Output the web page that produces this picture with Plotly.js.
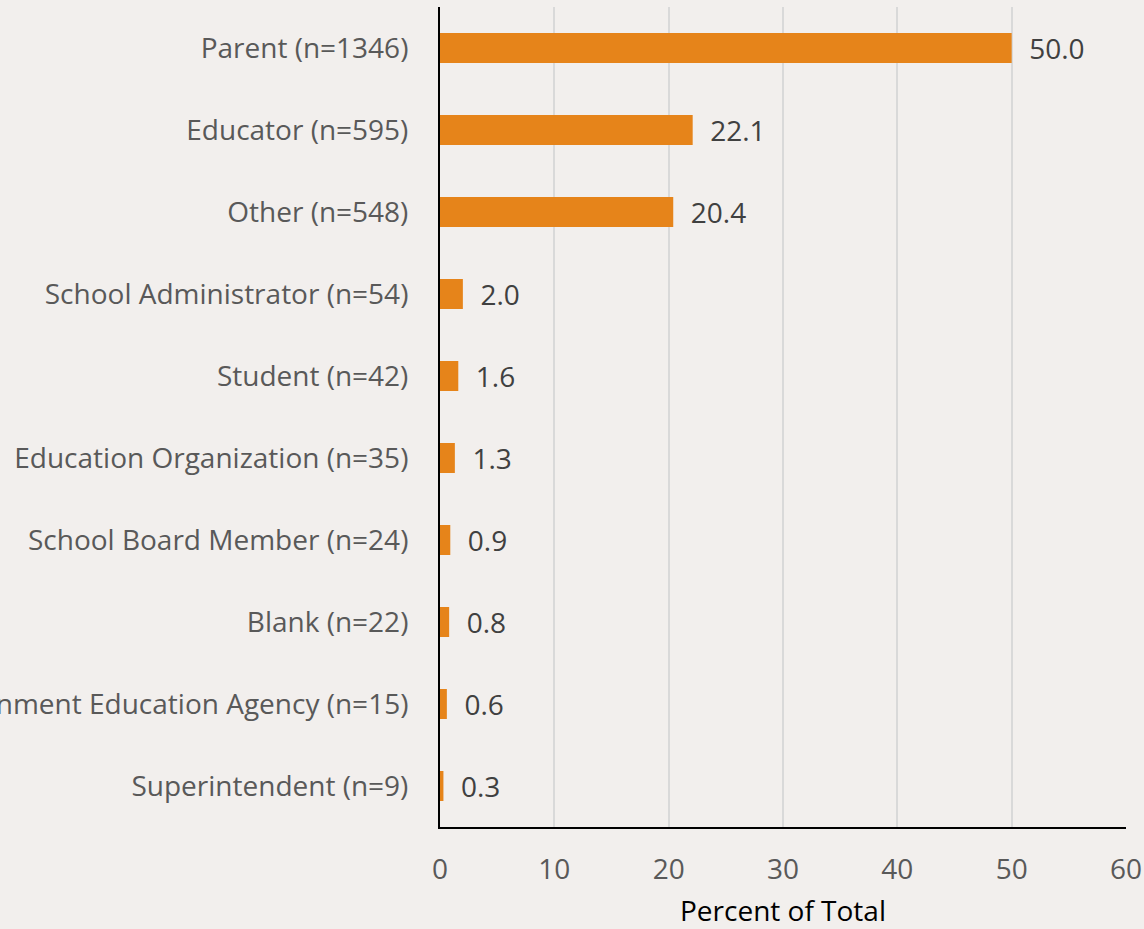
<!DOCTYPE html>
<html><head><meta charset="utf-8">
<script src="https://cdn.plot.ly/plotly-3.0.1.min.js"></script>
<style>html,body{margin:0;padding:0;background:#f2efed;}</style>
</head><body>
<div id="chart" style="width:1144px;height:929px;"></div>
<script>
const categories = ["Parent (n=1346)","Educator (n=595)","Other (n=548)","School Administrator (n=54)","Student (n=42)","Education Organization (n=35)","School Board Member (n=24)","Blank (n=22)","Government Education Agency (n=15)","Superintendent (n=9)"];
const percents = [50.0, 22.1, 20.4, 2.0, 1.6, 1.3, 0.9, 0.8, 0.6, 0.3];
const tickVals = [0,10,20,30,40,50,60];

const font = "'Open Sans', sans-serif";
Plotly.newPlot('chart', [{
  type: 'bar', orientation: 'h',
  y: categories, x: percents,
  marker: {color: '#e6841a'},
  text: percents.map(v => '\u00a0\u00a0' + v.toFixed(1)),
  textposition: 'outside',
  constraintext: 'none',
  textfont: {family: font, size: 28, color: '#404040'},
  cliponaxis: false,
  hoverinfo: 'none'
}], {
  width: 1144, height: 929,
  paper_bgcolor: '#f2efed', plot_bgcolor: '#f2efed',
  margin: {l: 440, r: 18, t: 7, b: 102},
  bargap: 0.634,
  showlegend: false,
  font: {family: font, color: '#595959'},
  xaxis: {
    range: [0, 60], tickvals: tickVals, ticktext: tickVals.map(String),
    showgrid: true, gridcolor: '#d9d9d9', gridwidth: 2,
    showline: true, linecolor: '#000000', linewidth: 2,
    zeroline: false, ticks: '', ticklabelstandoff: 16,
    tickfont: {family: font, size: 28, color: '#595959'},
    title: {text: 'Percent of Total', font: {family: font, size: 28, color: '#000000'}, standoff: 18}
  },
  yaxis: {
    autorange: 'reversed', showline: true, linecolor: '#000000', linewidth: 2,
    ticks: '', ticklabelstandoff: 24,
    tickfont: {family: font, size: 28, color: '#595959'},
    showgrid: false, zeroline: false
  }
}, {displayModeBar: false, staticPlot: true});
</script>
</body></html>
